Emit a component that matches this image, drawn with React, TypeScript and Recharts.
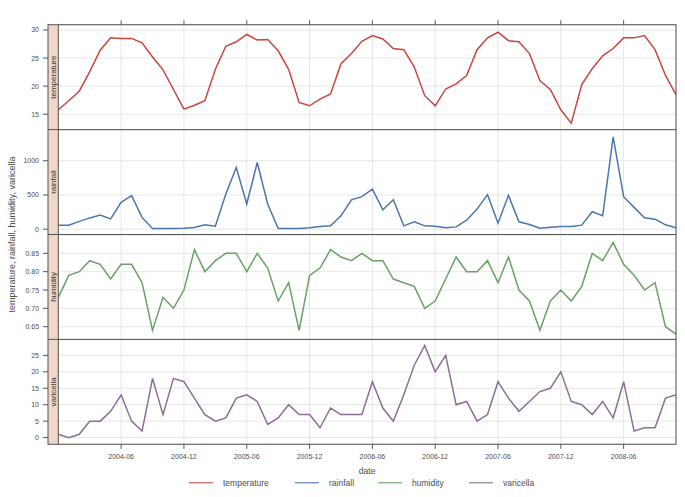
import { LineChart, Line, XAxis, YAxis, CartesianGrid } from 'recharts'

// monthly series, 2003-12 .. 2008-11
const months: string[] = []
for (let i = 0; i < 60; i++) {
  const m = 11 + i
  months.push(`${2003 + Math.floor(m / 12)}-${String((m % 12) + 1).padStart(2, '0')}`)
}

const dateTicks = ['2004-06', '2004-12', '2005-06', '2005-12', '2006-06', '2006-12', '2007-06', '2007-12', '2008-06']

const temperature = [
  15.8, 17.4, 19.1, 22.6, 26.4, 28.6, 28.5, 28.5, 27.7, 25.2, 22.9, 19.4,
  15.9, 16.6, 17.4, 23.0, 27.1, 27.9, 29.2, 28.2, 28.3, 26.3, 23.0, 17.1,
  16.5, 17.7, 18.6, 24.0, 25.8, 28.0, 29.0, 28.4, 26.7, 26.5, 23.4, 18.3,
  16.5, 19.5, 20.4, 21.9, 26.5, 28.6, 29.6, 28.1, 27.9, 25.8, 21.0, 19.4,
  15.8, 13.4, 20.3, 23.1, 25.4, 26.7, 28.6, 28.6, 29.0, 26.5, 21.9, 18.5,
]
const rainfall = [
  59, 59, 115, 165, 206, 150, 392, 490, 172, 10, 10, 10,
  15, 25, 64, 45, 515, 900, 368, 975, 368, 10, 10, 10,
  20, 40, 50, 196, 430, 475, 585, 284, 431, 49, 108, 49,
  44, 20, 34, 132, 294, 505, 88, 495, 108, 69, 15, 29,
  39, 39, 59, 255, 196, 1350, 475, 319, 167, 147, 64, 20,
]
const humidity = [
  0.73, 0.79, 0.80, 0.83, 0.82, 0.78, 0.82, 0.82, 0.77, 0.64, 0.73, 0.70,
  0.75, 0.86, 0.80, 0.83, 0.85, 0.85, 0.80, 0.85, 0.81, 0.72, 0.77, 0.64,
  0.79, 0.81, 0.86, 0.84, 0.83, 0.85, 0.83, 0.83, 0.78, 0.77, 0.76, 0.70,
  0.72, 0.78, 0.84, 0.80, 0.80, 0.83, 0.77, 0.84, 0.75, 0.72, 0.64, 0.72,
  0.75, 0.72, 0.76, 0.85, 0.83, 0.88, 0.82, 0.79, 0.75, 0.77, 0.65, 0.63,
]
const varicella = [
  1, 0, 1, 5, 5, 8, 13, 5, 2, 18, 7, 18,
  17, 12, 7, 5, 6, 12, 13, 11, 4, 6, 10, 7,
  7, 3, 9, 7, 7, 7, 17, 9, 5, 13, 22, 28,
  20, 25, 10, 11, 5, 7, 17, 12, 8, 11, 14, 15,
  20, 11, 10, 7, 11, 6, 17, 2, 3, 3, 12, 13,
]

const rows = months.map((month, i) => ({
  month,
  temperature: temperature[i],
  rainfall: rainfall[i],
  humidity: humidity[i],
  varicella: varicella[i],
}))

const panels = [
  { key: 'temperature', color: '#c9463f', domain: [12.21, 30.89], ticks: [15, 20, 25, 30], fmt: (v: number) => String(v) },
  { key: 'rainfall', color: '#4b76ad', domain: [-83, 1449], ticks: [0, 500, 1000], fmt: (v: number) => String(v) },
  { key: 'humidity', color: '#68a266', domain: [0.614, 0.9], ticks: [0.65, 0.7, 0.75, 0.8, 0.85], fmt: (v: number) => v.toFixed(2) },
  { key: 'varicella', color: '#8b6d97', domain: [-1.91, 29.98], ticks: [0, 5, 10, 15, 20, 25], fmt: (v: number) => String(v) },
]

const W = 685
const H = 497
const PLOT_L = 58.3
const PLOT_R = 676
const STRIP_L = 48
const TOP = 24.7
const PANEL_H = 104.9
const FONT = '"Liberation Sans", Arial, sans-serif'
const AXIS = '#555'
const TEXT = '#4d4d4d'

const Empty = () => <g />

const Panel = ({ idx }: { idx: number }) => {
  const p = panels[idx]
  const top = TOP + idx * PANEL_H
  const isFirst = idx === 0
  const isLast = idx === panels.length - 1
  const padTop = 10
  const padBottom = 10
  const xH = isLast ? 30 : 1
  const topH = isFirst ? 1 : 0
  const yW = 1
  return (
    <div style={{ position: 'absolute', left: 0, top: top - padTop }}>
      <LineChart
        width={W}
        height={PANEL_H + padTop + padBottom + (isLast ? xH : 0)}
        data={rows}
        margin={{
          top: padTop - topH,
          right: W - PLOT_R,
          bottom: padBottom - (isLast ? 0 : xH),
          left: PLOT_L - yW,
        }}
      >
        <CartesianGrid stroke="#e6e6e6" strokeWidth={1} />
        <XAxis
          dataKey="month"
          ticks={dateTicks}
          interval={0}
          height={xH}
          axisLine={false}
          tickLine={isLast ? { stroke: AXIS } : false}
          tickSize={5}
          tickMargin={5}
          tick={isLast ? { fill: TEXT, fontSize: 7, fontFamily: FONT } : Empty}
        />
        {isFirst && (
          <XAxis
            xAxisId="top"
            orientation="top"
            dataKey="month"
            ticks={dateTicks}
            interval={0}
            height={topH}
            axisLine={false}
            tickLine={{ stroke: AXIS }}
            tickSize={4.7}
            tick={Empty}
          />
        )}
        <YAxis
          type="number"
          width={yW}
          domain={p.domain}
          ticks={p.ticks}
          interval={0}
          allowDataOverflow
          axisLine={false}
          tickLine={false}
          tick={({ y, payload }: any) => (
            <g>
              <line x1={43} x2={STRIP_L} y1={y} y2={y} stroke={AXIS} />
              <text x={39} y={y} textAnchor="end" dominantBaseline="central" fontSize={7} fontFamily={FONT} fill={TEXT}>
                {p.fmt(payload.value)}
              </text>
            </g>
          )}
        />
        <Line
          type="linear"
          dataKey={p.key}
          stroke={p.color}
          strokeWidth={1.5}
          dot={false}
          isAnimationActive={false}
        />
      </LineChart>
    </div>
  )
}

const legendX = [189, 295, 378, 469]

const App = () => {
  const bottom = TOP + PANEL_H * panels.length
  return (
    <div style={{ position: 'absolute', left: 0, top: 0, width: W, height: H, background: '#fff', fontFamily: FONT }}>
      {panels.map((p, i) => (
        <Panel key={p.key} idx={i} />
      ))}
      <svg width={W} height={H} style={{ position: 'absolute', left: 0, top: 0, pointerEvents: 'none' }}>
        {panels.map((p, i) => {
          const y0 = TOP + i * PANEL_H
          const cy = y0 + PANEL_H / 2
          return (
            <g key={p.key}>
              <rect x={STRIP_L} y={y0} width={PLOT_L - STRIP_L} height={PANEL_H} fill="#efd8c8" />
              <text
                x={(STRIP_L + PLOT_L) / 2}
                y={cy}
                transform={`rotate(-90 ${(STRIP_L + PLOT_L) / 2} ${cy})`}
                textAnchor="middle"
                dominantBaseline="central"
                fontSize={8}
                fill="#333"
              >
                {p.key}
              </text>
              {i > 0 && <line x1={STRIP_L} x2={PLOT_R} y1={y0} y2={y0} stroke={AXIS} />}
            </g>
          )
        })}
        <rect x={STRIP_L} y={TOP} width={PLOT_R - STRIP_L} height={bottom - TOP} fill="none" stroke={AXIS} />
        <line x1={PLOT_L} x2={PLOT_L} y1={TOP} y2={bottom} stroke={AXIS} />
        <text
          x={12}
          y={(TOP + bottom) / 2}
          transform={`rotate(-90 12 ${(TOP + bottom) / 2})`}
          textAnchor="middle"
          dominantBaseline="central"
          fontSize={9}
          fill={TEXT}
        >
          temperature, rainfall, humidity, varicella
        </text>
        <text x={(PLOT_L + PLOT_R) / 2} y={471} textAnchor="middle" dominantBaseline="central" fontSize={8.7} fill={TEXT}>
          date
        </text>
        {panels.map((p, i) => (
          <g key={p.key}>
            <line x1={legendX[i]} x2={legendX[i] + 24} y1={482.7} y2={482.7} stroke={p.color} strokeWidth={1.5} opacity={0.75} />
            <text x={legendX[i] + 34} y={483} dominantBaseline="central" fontSize={8.5} fill={TEXT}>
              {p.key}
            </text>
          </g>
        ))}
      </svg>
    </div>
  )
}

export default App
